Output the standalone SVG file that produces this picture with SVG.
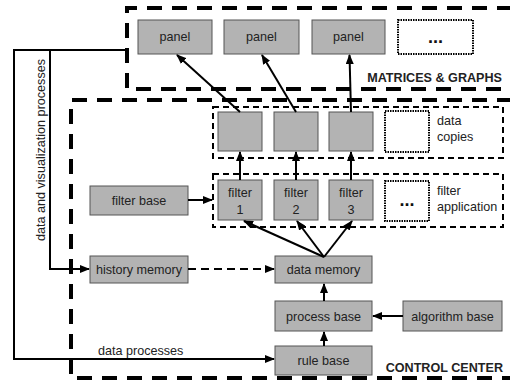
<svg xmlns="http://www.w3.org/2000/svg" width="510" height="383" viewBox="0 0 510 383">
<style>
text{font-family:"Liberation Sans",Arial,sans-serif;font-size:12.6px;fill:#222}
.c{text-anchor:middle}
.b{font-weight:bold;font-size:12.6px}
.dots{font-weight:bold;font-size:18px;fill:#111}
.box{fill:#b3b3b3;stroke:#555;stroke-width:1}
.big{fill:none;stroke:#000;stroke-width:4;stroke-dasharray:15 10}
.thin{fill:none;stroke:#000;stroke-width:2;stroke-dasharray:6 4}
.dot{fill:#fff;stroke:#000;stroke-width:2;stroke-dasharray:1.5 1}
.ln{fill:none;stroke:#000;stroke-width:2}
</style>
<defs>
<marker id="ah" markerUnits="userSpaceOnUse" markerWidth="10" markerHeight="8" refX="9" refY="4" orient="auto">
<path d="M0,0 L10,4 L0,8 Z" fill="#000"/>
</marker>
</defs>
<g id="matrices-graphs">
<path class="big" d="M512,8 H127 V89 H512"/>
<text class="b" x="502" y="82" text-anchor="end">MATRICES &amp; GRAPHS</text>
</g>
<g id="control-center">
<path class="big" d="M512,100 H71 V378 H512"/>
<text class="b" x="503" y="372" text-anchor="end">CONTROL CENTER</text>
</g>
<g id="data-copies">
<rect class="thin" x="213" y="107" width="290" height="51"/>
<text x="437" y="125">data</text>
<text x="437" y="141">copies</text>
</g>
<g id="filter-application">
<rect class="thin" x="213" y="174" width="290" height="53"/>
<text x="437" y="195">filter</text>
<text x="437" y="211">application</text>
</g>
<g id="panel1"><rect class="box" x="138" y="20" width="74" height="34"/><text class="c" x="175" y="41">panel</text></g>
<g id="panel2"><rect class="box" x="224" y="20" width="75" height="34"/><text class="c" x="261.5" y="41">panel</text></g>
<g id="panel3"><rect class="box" x="312" y="20" width="73" height="34"/><text class="c" x="348.5" y="41">panel</text></g>
<g id="panel-more"><rect class="dot" x="398" y="20" width="75" height="34"/><text class="c dots" x="435.5" y="43">...</text></g>
<g id="copy1"><rect class="box" x="218" y="112" width="44" height="39"/></g>
<g id="copy2"><rect class="box" x="274" y="112" width="44" height="39"/></g>
<g id="copy3"><rect class="box" x="329" y="112" width="44" height="39"/></g>
<g id="copy-more"><rect class="dot" x="385" y="111" width="44" height="41"/></g>
<g id="filter1"><rect class="box" x="218" y="180" width="44" height="40"/><text class="c" x="240" y="197">filter</text><text class="c" x="240" y="214">1</text></g>
<g id="filter2"><rect class="box" x="274" y="180" width="44" height="40"/><text class="c" x="296" y="197">filter</text><text class="c" x="296" y="214">2</text></g>
<g id="filter3"><rect class="box" x="329" y="180" width="44" height="40"/><text class="c" x="351" y="197">filter</text><text class="c" x="351" y="214">3</text></g>
<g id="filter-more"><rect class="dot" x="385" y="181" width="44" height="40"/><text class="c dots" x="407" y="206">...</text></g>
<g id="filter-base"><rect class="box" x="90" y="186" width="98" height="29"/><text class="c" x="139" y="205">filter base</text></g>
<g id="history-memory"><rect class="box" x="90" y="256" width="98" height="27"/><text class="c" x="139" y="274">history memory</text></g>
<g id="data-memory"><rect class="box" x="275" y="256" width="97" height="27"/><text class="c" x="323.5" y="274">data memory</text></g>
<g id="process-base"><rect class="box" x="275" y="301" width="97" height="30"/><text class="c" x="323.5" y="320.5">process base</text></g>
<g id="algorithm-base"><rect class="box" x="403" y="301" width="99" height="30"/><text class="c" x="452.5" y="320.5">algorithm base</text></g>
<g id="rule-base"><rect class="box" x="275" y="346" width="97" height="29"/><text class="c" x="323.5" y="365">rule base</text></g>
<g id="connectors">
<line class="ln" x1="240" y1="112" x2="177" y2="55" marker-end="url(#ah)"/>
<line class="ln" x1="296" y1="112" x2="262" y2="55" marker-end="url(#ah)"/>
<line class="ln" x1="351" y1="112" x2="349.5" y2="55" marker-end="url(#ah)"/>
<line class="ln" x1="240" y1="180" x2="240" y2="152" marker-end="url(#ah)"/>
<line class="ln" x1="296" y1="180" x2="296" y2="152" marker-end="url(#ah)"/>
<line class="ln" x1="351" y1="180" x2="351" y2="152" marker-end="url(#ah)"/>
<line class="ln" x1="324" y1="257" x2="244" y2="221" marker-end="url(#ah)"/>
<line class="ln" x1="324" y1="257" x2="297" y2="221" marker-end="url(#ah)"/>
<line class="ln" x1="324" y1="257" x2="352" y2="221" marker-end="url(#ah)"/>
<line class="ln" x1="188" y1="200" x2="212" y2="200" marker-end="url(#ah)"/>
<line class="ln" x1="188" y1="269" x2="274" y2="269" stroke-dasharray="8 5" marker-end="url(#ah)"/>
<line class="ln" x1="403" y1="316" x2="373" y2="316" marker-end="url(#ah)"/>
<line class="ln" x1="324" y1="301" x2="324" y2="284" marker-end="url(#ah)"/>
<line class="ln" x1="324" y1="346" x2="324" y2="332" marker-end="url(#ah)"/>
<polyline class="ln" points="125,50 14,50 14,359 274,359" marker-end="url(#ah)"/>
<polyline class="ln" points="50,50 50,269 89,269" marker-end="url(#ah)"/>
<text x="0" y="0" transform="translate(45,241) rotate(-90)">data and visualization processes</text>
<text x="98" y="355">data processes</text>
</g>
</svg>
